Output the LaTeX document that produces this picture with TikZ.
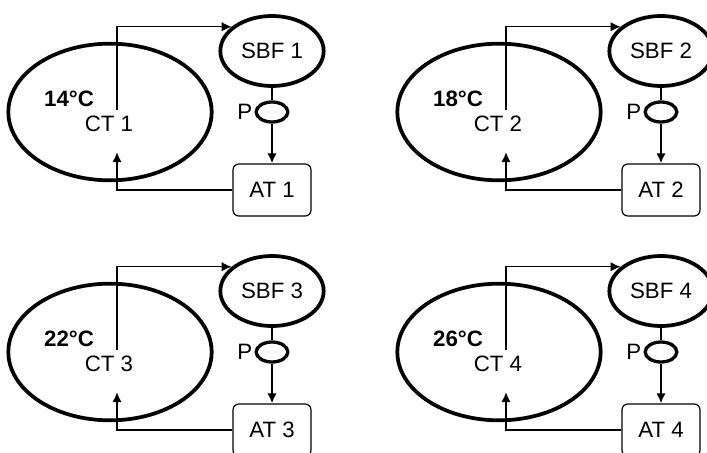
\documentclass[tikz,border=0pt]{standalone}
\usepackage{fontspec}
\setmainfont{Liberation Sans}
\usetikzlibrary{shapes.geometric,positioning,arrows.meta}
\tikzset{
	tank/.style={ellipse, draw=black, line width=3.2pt, inner sep=0pt, minimum width=6.1cm, minimum height=4.1cm},
	filt/.style={ellipse, draw=black, line width=3.2pt, inner sep=0pt, minimum width=3.1cm, minimum height=2.1cm},
	pump/.style={ellipse, draw=black, line width=2.8pt, inner sep=0pt, minimum width=0.95cm, minimum height=0.6cm},
	atbox/.style={rectangle, rounded corners=5pt, draw=black, line width=1pt, minimum width=2.34cm, minimum height=1.56cm},
	txt/.style={font=\fontsize{19}{22}\selectfont, inner sep=0pt},
	flow/.style={-{Latex[length=3mm,width=2.8mm]}, line width=1.2pt},
	feed/.style={-{Latex[length=3mm,width=2.8mm]}, line width=1.7pt}
}

\begin{document}
\begin{tikzpicture}[x=0.03cm, y=-0.03cm]
\useasboundingbox (0,0) rectangle (707,452);
\clip (0,0) rectangle (707,452);
\foreach \i/\dx/\dy/\temp in {1/0/0/14, 2/389/0/18, 3/0/240/22, 4/389/240/26}{
\begin{scope}[shift={(\dx,\dy)}]
\node[tank] (CT\i) at (110,112) {};
\node[txt] (name\i) at (109,124) {CT \i};
\node[txt, font=\fontsize{19}{22}\selectfont\bfseries] (temp\i) at (69,99) {\temp°C};
\node[filt] (SBF\i) at (272,51) {\fontsize{19}{22}\selectfont SBF \i};
\node[pump] (P\i) at (272,112) {};
\node[txt] (Plab\i) [left=0.06cm of P\i] {P};
\node[atbox] (AT\i) at (272,190) {\fontsize{19}{22}\selectfont AT \i};
\coordinate (up\i) at (117,110);
\coordinate (down\i) at (117,152);
% loop: tank -> filter -> pump -> tank
\draw[flow] (up\i) |- (SBF\i.149);
\draw[line width=1.2pt] (SBF\i) -- (P\i);
\draw[feed] (P\i) -- (AT\i);
\draw[feed] (AT\i.west) -| (down\i);
\end{scope}
}
\end{tikzpicture}
\end{document}
